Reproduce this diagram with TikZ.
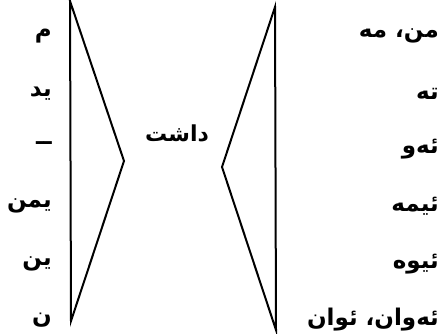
\documentclass[tikz,border=0pt]{standalone}
\usepackage{fontspec}
\usepackage{xcolor}
\usepackage{tikz}
\usetikzlibrary{positioning}
\TeXXeTstate=1
\newfontfamily\arabicfont[Script=Arabic, BoldFont={DejaVu Sans Bold}]{DejaVu Sans}
\tikzset{
    suffix/.style={anchor=east, inner sep=0pt, font=\arabicfont\bfseries\fontsize{23}{25}\selectfont},
    pronoun/.style={anchor=east, inner sep=0pt, font=\arabicfont\bfseries\fontsize{23}{25}\selectfont},
    stem/.style={inner sep=0pt, font=\arabicfont\bfseries\fontsize{22}{24}\selectfont},
    bracket/.style={line width=2pt, line join=miter}
}

\begin{document}
\begin{tikzpicture}[x=1pt, y=-1pt]
    \useasboundingbox (0,0) rectangle (442,334);

    % left bracket (suffixes)
    \coordinate (ltop) at (70,1);
    \coordinate (lbot) at (71,321);
    \coordinate (ltip) at (124,161);
    \draw [bracket] (ltop) -- (lbot) -- (ltip) -- cycle;

    % right bracket (pronouns)
    \coordinate (rtop) at (275,7);
    \coordinate (rbot) at (276,330);
    \coordinate (rtip) at (222,167);
    \draw [bracket] (rtop) -- (rbot) -- (rtip) -- cycle;

    % verb stem
    \node [stem] (dasht) at (177,133) {\beginR داشت\endR};

    % suffixes
    \node [suffix] (s1) at (52,36) {\beginR م\endR};
    \node [suffix] (s2) at (52,94) {\beginR ید\endR};
    \node [suffix] (s3) at (52,143) {\beginR ــ\endR};
    \node [suffix] (s4) at (52,206) {\beginR یمن\endR};
    \node [suffix] (s5) at (52,264) {\beginR ین\endR};
    \node [suffix] (s6) at (52,320) {\beginR ن\endR};

    % pronouns
    \node [pronoun] (p1) at (439,36) {\beginR من، مه\endR};
    \node [pronoun] (p2) at (439,94) {\beginR ته\endR};
    \node [pronoun] (p3) at (439,149) {\beginR ئه‌و\endR};
    \node [pronoun] (p4) at (439,206) {\beginR ئیمه\endR};
    \node [pronoun] (p5) at (439,264) {\beginR ئیوه\endR};
    \node [pronoun] (p6) at (439,320) {\beginR ئه‌وان، ئوان\endR};
\end{tikzpicture}
\end{document}
